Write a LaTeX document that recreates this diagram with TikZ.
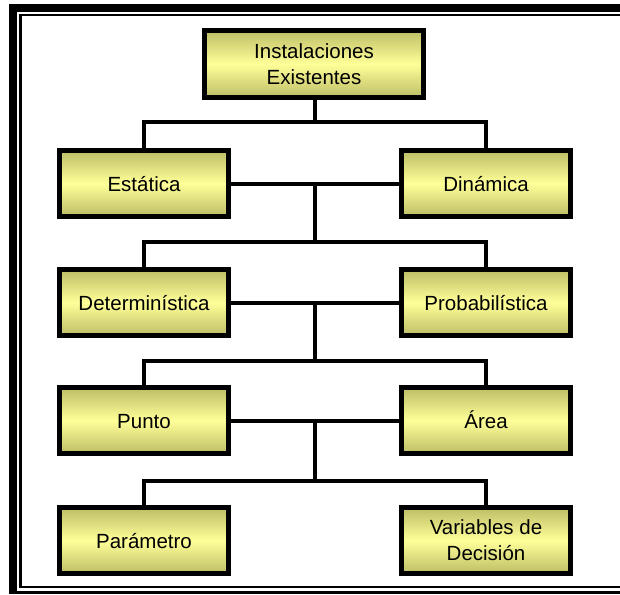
\documentclass[tikz,border=0pt]{standalone}
\usepackage{fontspec}
\setmainfont{Liberation Sans}
\usepackage{tikz}

\definecolor{oliva}{RGB}{189,189,102}
\definecolor{amarillo}{RGB}{255,255,153}

\tikzset{
	bloque/.style = {draw=black, line width=5pt, top color=oliva, bottom color=oliva,
		middle color=amarillo, minimum width=169pt, minimum height=66pt,
		inner sep=0pt, align=center, font=\fontsize{20.5}{26}\selectfont},
	linea/.style = {bloque, text height=19pt, text depth=4pt},
	conector/.style = {line width=4pt}
}

\begin{document}
\begin{tikzpicture}[x=1pt, y=-1pt]
	\useasboundingbox (0,0) rectangle (620,594);
	% marco doble
	\fill (9,4) rectangle (620,12);
	\fill (9,4) rectangle (16.5,594);
	\fill (9,590.5) rectangle (620,594);
	\fill (19,14) rectangle (620,16.5);
	\fill (19,14) rectangle (21.5,588);
	\fill (19,585.5) rectangle (620,588);

	\node [bloque, minimum width=219pt, minimum height=67pt] (inst) at (314,64) {Instalaciones\\Existentes};
	\node [linea] (est) at (144,183.5) {Estática};
	\node [linea] (din) at (486,183.5) {Dinámica};
	\node [linea] (det) at (144,302.5) {Determinística};
	\node [linea] (prob) at (486,302.5) {Probabilística};
	\node [linea] (pun) at (144,420.5) {Punto};
	\node [linea] (area) at (486,420.5) {Área};
	\node [linea] (par) at (144,540.5) {Parámetro};
	\node [bloque] (var) at (486,540.5) {Variables de\\Decisión};

	\coordinate (b1) at (315,122);
	\coordinate (m1) at (315,183.5);
	\coordinate (b2) at (315,242);
	\coordinate (m2) at (315,302.5);
	\coordinate (b3) at (315,361);
	\coordinate (m3) at (315,420.5);
	\coordinate (b4) at (315,481);

	\draw [conector] (inst.south -| b1) -- (b1);
	\draw [conector] (est) |- (b1) -| (din);
	\draw [conector] (est) -- (din);
	\draw [conector] (m1) -- (b2);
	\draw [conector] (det) |- (b2) -| (prob);
	\draw [conector] (det) -- (prob);
	\draw [conector] (m2) -- (b3);
	\draw [conector] (pun) |- (b3) -| (area);
	\draw [conector] (pun) -- (area);
	\draw [conector] (m3) -- (b4);
	\draw [conector] (par) |- (b4) -| (var);
\end{tikzpicture}
\end{document}
